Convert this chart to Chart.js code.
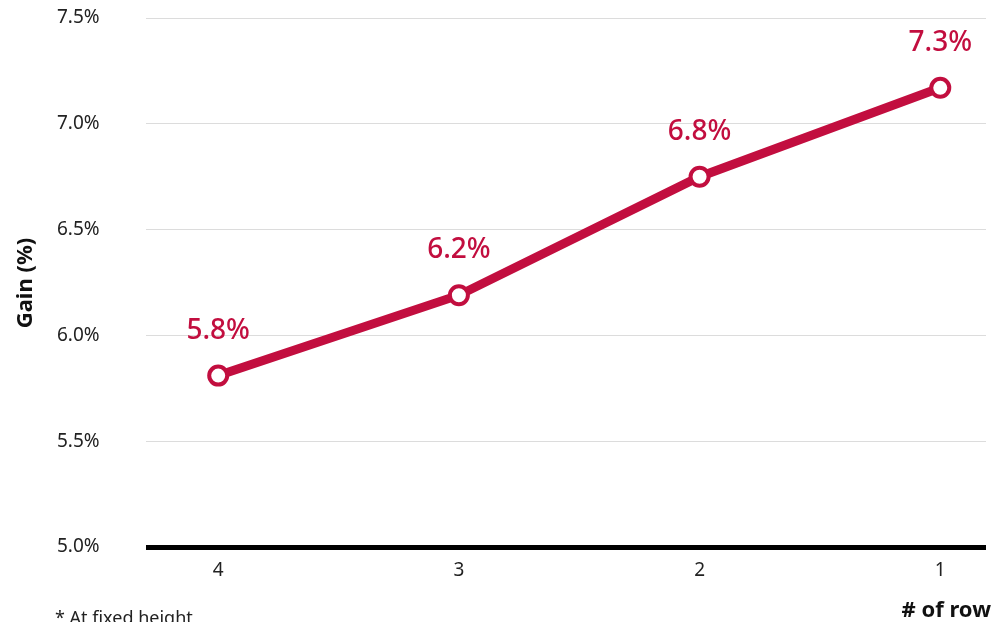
<!DOCTYPE html>
<html>
<head>
<meta charset="utf-8">
<script src="https://cdn.jsdelivr.net/npm/chart.js@4"></script>
<style>
  html, body { margin: 0; padding: 0; background: #fff; }
  #wrap { width: 993px; height: 622px; position: relative; }
</style>
</head>
<body>
<div id="wrap"><canvas id="gainChart"></canvas></div>
<script>
"use strict";

// Data
const rows = [4, 3, 2, 1];
const gains = [5.81, 6.19, 6.75, 7.17];
const gainLabels = ['5.8%', '6.2%', '6.8%', '7.3%'];
const yTicks = [5.0, 5.5, 6.0, 6.5, 7.0, 7.5];

const RED = '#c20e3f';
const FONT = "'Noto Sans', 'Open Sans', sans-serif";

// extra text: value labels, axis titles, footnote
const extrasPlugin = {
    id: 'extras',
    afterDatasetsDraw(chart) {
        const ctx = chart.ctx;
        const meta = chart.getDatasetMeta(0);
        ctx.save();
        ctx.fillStyle = RED;
        ctx.font = '500 28px ' + FONT;
        ctx.textAlign = 'center';
        ctx.textBaseline = 'middle';
        meta.data.forEach((pt, i) => {
            ctx.fillText(gainLabels[i], pt.x, pt.y - 45);
        });

        ctx.fillStyle = '#111';
        ctx.font = 'bold 22px ' + FONT;
        ctx.save();
        ctx.translate(26, 283);
        ctx.rotate(-Math.PI / 2);
        ctx.fillText('Gain (%)', 0, 0);
        ctx.restore();

        ctx.textAlign = 'right';
        ctx.textBaseline = 'alphabetic';
        ctx.font = 'bold 22px ' + FONT;
        ctx.fillText('# of row', 991, 617);

        ctx.textAlign = 'left';
        ctx.fillStyle = '#222';
        ctx.font = '18px ' + FONT;
        ctx.fillText('* At fixed height', 55, 624);
        ctx.restore();
    }
};

const ctx = document.getElementById('gainChart').getContext('2d');

new Chart(ctx, {
    type: 'line',
    data: {
        datasets: [{
            data: rows.map((r, i) => ({ x: r, y: gains[i] })),
            borderColor: RED,
            borderWidth: 9,
            pointRadius: 9,
            pointBorderWidth: 4,
            pointBackgroundColor: '#fff',
            pointBorderColor: RED,
            tension: 0
        }]
    },
    options: {
        responsive: true,
        maintainAspectRatio: false,
        animation: false,
        layout: { autoPadding: false, padding: { top: 18, right: 7, left: 57, bottom: 0 } },
        plugins: {
            legend: { display: false },
            tooltip: { enabled: false }
        },
        scales: {
            x: {
                type: 'linear',
                reverse: true,
                min: 0.81,
                max: 4.3,
                afterBuildTicks: (axis) => { axis.ticks = rows.map(v => ({ value: v })); },
                afterFit: (axis) => {
                    axis.height = 75;
                    axis.paddingLeft = 0;
                    axis.paddingRight = 0;
                },
                grid: { display: false, drawTicks: false },
                border: { display: false },
                ticks: {
                    color: '#222',
                    font: { family: FONT, size: 19 },
                    padding: 12
                }
            },
            y: {
                min: 5.0,
                max: 7.5,
                afterBuildTicks: (axis) => { axis.ticks = yTicks.map(v => ({ value: v })); },
                afterFit: (axis) => { axis.width = 89; },
                border: { display: false },
                grid: {
                    drawTicks: false,
                    color: (c) => c.tick && c.tick.value === 5 ? '#000' : '#dcdcdc',
                    lineWidth: (c) => c.tick && c.tick.value === 5 ? 5 : 1
                },
                ticks: {
                    color: '#222',
                    font: { family: FONT, size: 19 },
                    padding: 0,
                    crossAlign: 'far',
                    callback: (v) => v.toFixed(1) + '%'
                }
            }
        }
    },
    plugins: [extrasPlugin]
});
</script>
</body>
</html>
